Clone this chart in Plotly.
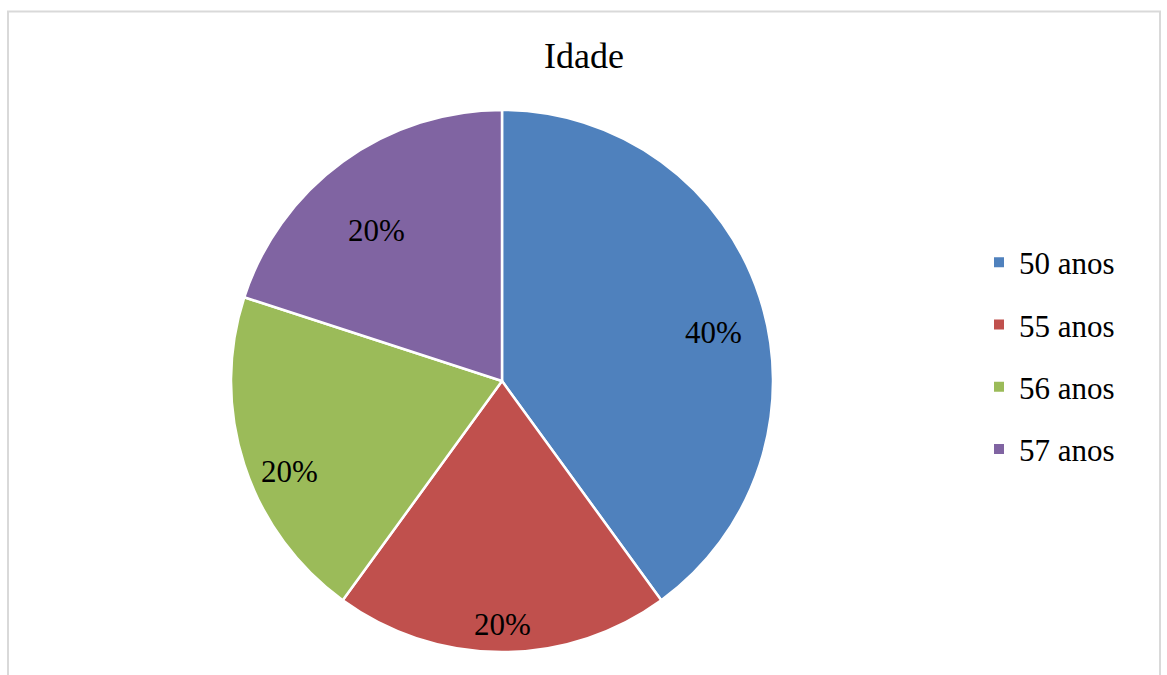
import math
import plotly.graph_objects as go

labels = ["50 anos", "55 anos", "56 anos", "57 anos"]
values = [40, 20, 20, 20]
colors = ["#4F81BD", "#C0504D", "#9BBB59", "#8064A2"]
title_text = "Idade"

W, H = 1167, 675
FONT = "Liberation Serif"

# pie geometry (pixels)
CX, CY, R = 502, 381, 271
# data-label placement (Excel "best fit" style): radial factor and angle nudge (deg)
label_r = [0.80, 0.897, 0.853, 0.723]
label_dtheta = [5, 0, -5, -4]

fig = go.Figure()
fig.add_trace(go.Pie(
    labels=labels,
    values=values,
    sort=False,
    direction="clockwise",
    rotation=0,
    marker=dict(colors=colors, line=dict(color="white", width=2.5)),
    textinfo="none",
    domain=dict(x=[(CX - R) / W, (CX + R) / W], y=[1 - (CY + R) / H, 1 - (CY - R) / H]),
    hoverinfo="label+percent",
    showlegend=False,
))

# legend entries
for lab, col in zip(labels, colors):
    fig.add_trace(go.Scatter(
        x=[None], y=[None], mode="markers", name=lab, legendgroup=lab,
        marker=dict(symbol="square", size=10, color=col),
        showlegend=True, hoverinfo="skip",
    ))

# percentage labels computed from the data
total = sum(values)
annotations = []
cum = 0
for i, v in enumerate(values):
    mid = (cum + v / 2) / total * 2 * math.pi + math.radians(label_dtheta[i])
    cum += v
    rr = R * label_r[i]
    px = CX + rr * math.sin(mid)
    py = CY - rr * math.cos(mid)
    annotations.append(dict(
        x=px / W, y=1 - py / H, xref="paper", yref="paper",
        text=f"{round(v / total * 100)}%", showarrow=False,
        xanchor="center", yanchor="middle",
        font=dict(family=FONT, size=31, color="black"),
    ))

fig.update_layout(
    width=W, height=H,
    margin=dict(l=0, r=0, t=0, b=0),
    paper_bgcolor="white",
    plot_bgcolor="white",
    font=dict(family=FONT, color="black"),
    xaxis=dict(visible=False, domain=[0.99, 1]),
    yaxis=dict(visible=False, domain=[0.99, 1]),
    title=dict(text=title_text, x=584 / W, xanchor="center", y=1 - 55 / H, yanchor="middle",
               font=dict(family=FONT, size=36, color="black")),
    legend=dict(x=979 / W, y=1 - 356 / H, xanchor="left", yanchor="middle",
                font=dict(family=FONT, size=31, color="black"),
                tracegroupgap=19,
                bgcolor="rgba(0,0,0,0)"),
    showlegend=True,
    annotations=annotations,
    shapes=[dict(type="rect", xref="paper", yref="paper",
                 x0=8 / W, x1=1160 / W, y0=-0.02, y1=1 - 11.5 / H,
                 line=dict(color="#D9D9D9", width=2), fillcolor="rgba(0,0,0,0)", layer="below")],
)

fig.write_html("out.html")
